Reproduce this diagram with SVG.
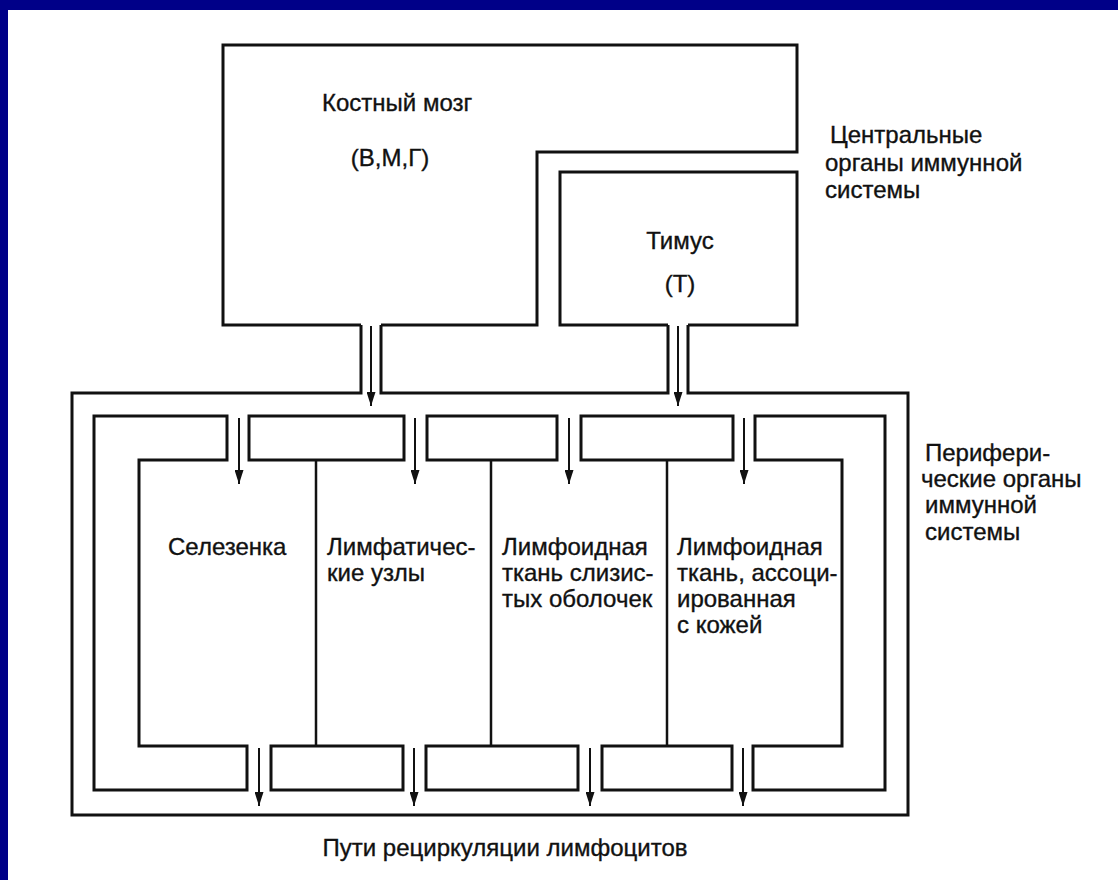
<svg xmlns="http://www.w3.org/2000/svg" width="1118" height="880" viewBox="0 0 1118 880">
<defs>
<style>
.bx{fill:none;stroke:#111;stroke-width:3;stroke-linejoin:miter}
.dv{fill:none;stroke:#111;stroke-width:2.5}
.ar{fill:none;stroke:#111;stroke-width:2}
.t{font-family:"Liberation Sans",Arial,sans-serif;font-size:24px;fill:#111;stroke:#111;stroke-width:0.35}
.c{text-anchor:middle}
</style>
<marker id="ah" viewBox="0 0 14 9" refX="14" refY="4.5" markerWidth="14" markerHeight="9" markerUnits="userSpaceOnUse" orient="auto">
<path d="M0,0 L14,4.5 L0,9 Z" fill="#111"/>
</marker>
</defs>
<rect x="0" y="0" width="1118" height="880" fill="#fff"/>
<rect x="0" y="0" width="1118" height="10" fill="#000088"/>
<rect x="0" y="0" width="8" height="880" fill="#000088"/>

<g id="bone-marrow">
<path class="bx" d="M361,325 L223,325 L223,45 L797,45 L797,152 L537,152 L537,325 L381,325"/>
<text class="t" x="322" y="111">Костный мозг</text>
<text class="t c" x="390" y="166">(В,М,Г)</text>
</g>

<g id="thymus">
<path class="bx" d="M668,325 L560,325 L560,172 L797,172 L797,325 L688,325"/>
<text class="t c" x="680" y="249">Тимус</text>
<text class="t c" x="680" y="292">(Т)</text>
</g>

<g id="central-label">
<text class="t" x="830" y="143">Центральные</text>
<text class="t" x="825" y="171">органы иммунной</text>
<text class="t" x="825" y="198">системы</text>
</g>

<g id="peripheral-frame">
<path class="bx" d="M361,325 L361,393 L72,393 L72,815 L908,815 L908,393 L688,393 L688,325"/>
<path class="bx" d="M381,325 L381,393 L668,393 L668,325"/>
</g>

<g id="peripheral-label">
<text class="t" x="925" y="461">Перифери-</text>
<text class="t" x="921" y="487">ческие органы</text>
<text class="t" x="925" y="513">иммунной</text>
<text class="t" x="925" y="540">системы</text>
</g>

<g id="spleen">
<path class="bx" d="M94,416 L227,416 L227,460 L139,460 L139,746 L247,746 L247,790 L94,790 Z"/>
<text class="t" x="168" y="555">Селезенка</text>
</g>

<g id="lymph-nodes">
<rect class="bx" x="249" y="416" width="155" height="44"/>
<rect class="bx" x="271" y="746" width="132" height="44"/>
<line class="dv" x1="316" y1="460" x2="316" y2="746"/>
<text class="t" x="327" y="555">Лимфатичес-</text>
<text class="t" x="327" y="581">кие узлы</text>
</g>

<g id="mucosal-tissue">
<rect class="bx" x="427" y="416" width="130" height="44"/>
<rect class="bx" x="426" y="746" width="152" height="44"/>
<line class="dv" x1="491" y1="460" x2="491" y2="746"/>
<text class="t" x="502" y="555">Лимфоидная</text>
<text class="t" x="502" y="581">ткань слизис-</text>
<text class="t" x="502" y="607">тых оболочек</text>
</g>

<g id="skin-tissue">
<rect class="bx" x="581" y="416" width="152" height="44"/>
<rect class="bx" x="602" y="746" width="130" height="44"/>
<line class="dv" x1="667" y1="460" x2="667" y2="746"/>
<path class="bx" d="M755,416 L885,416 L885,790 L753,790 L753,746 L842,746 L842,460 L755,460 Z"/>
<text class="t" x="677" y="555">Лимфоидная</text>
<text class="t" x="677" y="581">ткань, ассоци-</text>
<text class="t" x="677" y="607">ированная</text>
<text class="t" x="677" y="633">с кожей</text>
</g>

<g id="connectors">
<line class="ar" x1="371" y1="326" x2="371" y2="406" marker-end="url(#ah)"/>
<line class="ar" x1="678" y1="326" x2="678" y2="406" marker-end="url(#ah)"/>
<line class="ar" x1="239" y1="418" x2="239" y2="484" marker-end="url(#ah)"/>
<line class="ar" x1="415" y1="418" x2="415" y2="484" marker-end="url(#ah)"/>
<line class="ar" x1="569" y1="418" x2="569" y2="484" marker-end="url(#ah)"/>
<line class="ar" x1="744" y1="418" x2="744" y2="484" marker-end="url(#ah)"/>
<line class="ar" x1="259" y1="748" x2="259" y2="806" marker-end="url(#ah)"/>
<line class="ar" x1="414" y1="748" x2="414" y2="806" marker-end="url(#ah)"/>
<line class="ar" x1="590" y1="748" x2="590" y2="806" marker-end="url(#ah)"/>
<line class="ar" x1="743" y1="748" x2="743" y2="806" marker-end="url(#ah)"/>
</g>

<g id="footer">
<text class="t c" x="505" y="856">Пути рециркуляции лимфоцитов</text>
</g>
</svg>
